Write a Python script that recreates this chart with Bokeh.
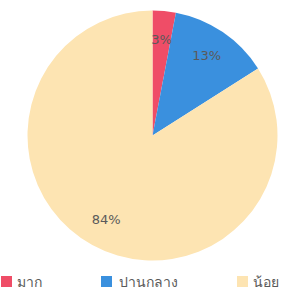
import math
from bokeh.plotting import figure
from bokeh.models import ColumnDataSource, Range1d
from bokeh.core.properties import value
from bokeh.embed import file_html
from bokeh.resources import INLINE

categories = ["มาก", "ปานกลาง", "น้อย"]
shares = [3, 13, 84]
labels = ["3%", "13%", "84%"]
colors = ["#ef4d67", "#3a90de", "#fde4b2"]

W, H = 279, 291
cx, cy, r = 152, H - 135, 125

total = float(sum(shares))
starts, ends, lx, ly = [], [], [], []
acc = 0.0
for s in shares:
    a0 = math.pi / 2 - 2 * math.pi * acc / total
    acc += s
    a1 = math.pi / 2 - 2 * math.pi * acc / total
    starts.append(a1)
    ends.append(a0)
    mid = (a0 + a1) / 2
    lx.append(cx + 0.77 * r * math.cos(mid))
    ly.append(cy + 0.77 * r * math.sin(mid))

src = ColumnDataSource(dict(start=starts, end=ends, color=colors,
                            lx=lx, ly=ly, label=labels))

p = figure(width=W, height=H, output_backend="svg", toolbar_location=None,
           x_range=Range1d(0, W), y_range=Range1d(0, H), min_border=0)
p.axis.visible = False
p.grid.visible = False
p.outline_line_color = None
p.background_fill_color = "white"
p.border_fill_color = "white"

p.wedge(x=cx, y=cy, radius=r, start_angle="start", end_angle="end",
        fill_color="color", line_color=None, source=src)
p.text(x="lx", y="ly", text="label", source=src, text_align="center",
       text_baseline="middle", text_color="#5a5a5a", text_font_size="13px",
       text_font=value("DejaVu Sans"))

# legend
leg_x = [6, 106, 242]
leg_y = [H - 281] * 3
txt_x = [16, 118, 252]
leg = ColumnDataSource(dict(x=leg_x, y=leg_y, tx=txt_x, color=colors, name=categories))
p.scatter(x="x", y="y", marker="square", size=11, fill_color="color",
          line_color=None, source=leg)
p.text(x="tx", y="y", text="name", source=leg, text_align="left",
       text_baseline="middle", text_color="#5a5a5a", text_font_size="14px",
       text_font=value("DejaVu Sans"))

open("out.html", "w").write(file_html(p, INLINE))
